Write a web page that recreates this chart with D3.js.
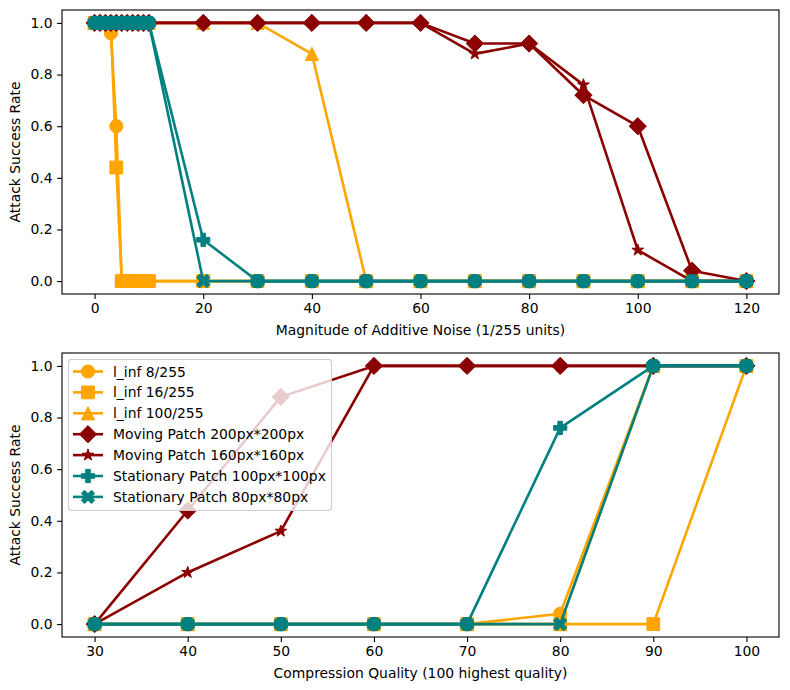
<!DOCTYPE html>
<html>
<head>
<meta charset="utf-8">
<script src="https://cdn.jsdelivr.net/npm/d3@7"></script>
<style>
  body { margin: 0; background: #fff; }
  svg text { font-family: "DejaVu Sans", sans-serif; font-size: 13.9px; fill: #000; }
</style>
</head>
<body>
<svg id="chart"></svg>
<script>
// ---- data ----
var noiseLevels = [0, 1, 2, 3, 4, 5, 6, 7, 8, 9, 10, 20, 30, 40, 50, 60, 70, 80, 90, 100, 110, 120];
var qualityLevels = [30, 40, 50, 60, 70, 80, 90, 100];

var seriesNames = ["l_inf 8/255", "l_inf 16/255", "l_inf 100/255",
  "Moving Patch 200px*200px", "Moving Patch 160px*160px",
  "Stationary Patch 100px*100px", "Stationary Patch 80px*80px", null];
var seriesColors = ["orange", "orange", "orange", "darkred", "darkred", "teal", "teal", "teal"];
var seriesMarkers = ["circle", "square", "triangle", "diamond", "star", "plus", "x", "circle"];

// noise sweep (top)
var linf8Noise    = [1, 1, 1, 0.96, 0.6, 0, 0, 0, 0, 0, 0, 0, 0, 0, 0, 0, 0, 0, 0, 0, 0, 0];
var linf16Noise   = [1, 1, 1, 1, 0.44, 0, 0, 0, 0, 0, 0, 0, 0, 0, 0, 0, 0, 0, 0, 0, 0, 0];
var linf100Noise  = [1, 1, 1, 1, 1, 1, 1, 1, 1, 1, 1, 1, 1, 0.88, 0, 0, 0, 0, 0, 0, 0, 0];
var moving200Noise = [1, 1, 1, 1, 1, 1, 1, 1, 1, 1, 1, 1, 1, 1, 1, 1, 0.92, 0.92, 0.72, 0.6, 0.04, 0];
var moving160Noise = [1, 1, 1, 1, 1, 1, 1, 1, 1, 1, 1, 1, 1, 1, 1, 1, 0.88, 0.92, 0.76, 0.12, 0, 0];
var stat100Noise  = [1, 1, 1, 1, 1, 1, 1, 1, 1, 1, 1, 0.16, 0, 0, 0, 0, 0, 0, 0, 0, 0, 0];
var stat80Noise   = [1, 1, 1, 1, 1, 1, 1, 1, 1, 1, 1, 0, 0, 0, 0, 0, 0, 0, 0, 0, 0, 0];
var extraNoise    = [1, 1, 1, 1, 1, 1, 1, 1, 1, 1, 1, null, 0, 0, 0, 0, 0, 0, 0, 0, 0, 0];

// compression sweep (bottom)
var linf8Quality    = [0, 0, 0, 0, 0, 0.04, 1, 1];
var linf16Quality   = [0, 0, 0, 0, 0, 0, 0, 1];
var linf100Quality  = [0, 0, 0, 0, 0, 0, 1, 1];
var moving200Quality = [0, 0.44, 0.88, 1, 1, 1, 1, 1];
var moving160Quality = [0, 0.2, 0.36, 1, 1, 1, 1, 1];
var stat100Quality  = [0, 0, 0, 0, 0, 0.76, 1, 1];
var stat80Quality   = [0, 0, 0, 0, 0, 0, 1, 1];
var extraQuality    = [0, 0, 0, 0, 0, null, 1, 1];

var yTicks = [0, 0.2, 0.4, 0.6, 0.8, 1.0];
var noiseTicks = [0, 20, 40, 60, 80, 100, 120];
var qualityTicks = [30, 40, 50, 60, 70, 80, 90, 100];

// ---- marker shapes ----
function markerPath(type) {
  var p, r;
  switch (type) {
    case "circle":
      return d3.symbol(d3.symbolCircle, Math.PI * 6.6 * 6.6)();
    case "square":
      r = 6.4;
      return "M" + (-r) + "," + (-r) + "H" + r + "V" + r + "H" + (-r) + "Z";
    case "triangle":
      r = 6.6;
      return "M0," + (-r) + "L" + r + "," + r + "L" + (-r) + "," + r + "Z";
    case "diamond":
      r = 8.6;
      return "M0," + (-r) + "L" + r + ",0L0," + r + "L" + (-r) + ",0Z";
    case "star":
      p = [];
      for (var i = 0; i < 10; i++) {
        var rr = i % 2 ? 2.4 : 6.2, a = -Math.PI / 2 + i * Math.PI / 5;
        p.push([rr * Math.cos(a), rr * Math.sin(a)]);
      }
      return "M" + p.join("L") + "Z";
    case "plus":
    case "x":
      var o = 6.6, w = 2.3;
      p = [[-w,-o],[w,-o],[w,-w],[o,-w],[o,w],[w,w],[w,o],[-w,o],[-w,w],[-o,w],[-o,-w],[-w,-w]];
      if (type === "x") {
        o = 7.2;
        p = [[-w,-o],[w,-o],[w,-w],[o,-w],[o,w],[w,w],[w,o],[-w,o],[-w,w],[-o,w],[-o,-w],[-w,-w]];
        var c = Math.SQRT1_2;
        p = p.map(function(d) { return [(d[0] - d[1]) * c, (d[0] + d[1]) * c]; });
      }
      return "M" + p.join("L") + "Z";
  }
}

var svg = d3.select("#chart").attr("width", 790).attr("height", 690);
svg.append("rect").attr("width", 790).attr("height", 690).attr("fill", "#fff");

function drawPanel(box, xs, xDomain, xTicks, seriesList, xLabel, withLegend) {
  var x = d3.scaleLinear().domain(xDomain).range([box.left, box.right]);
  var y = d3.scaleLinear().domain([-0.05, 1.05]).range([box.bottom, box.top]);
  var g = svg.append("g");

  var line = d3.line()
    .defined(function(d) { return d[1] !== null; })
    .x(function(d) { return x(d[0]); })
    .y(function(d) { return y(d[1]); });

  seriesList.forEach(function(vals, i) {
    var pts = xs.map(function(v, j) { return [v, vals[j]]; });
    var sg = g.append("g");
    sg.append("path").attr("d", line(pts)).attr("fill", "none")
      .attr("stroke", seriesColors[i]).attr("stroke-width", 2.6).attr("stroke-linejoin", "round");
    sg.selectAll(".m").data(pts.filter(function(d) { return d[1] !== null; })).enter()
      .append("path")
      .attr("d", markerPath(seriesMarkers[i]))
      .attr("transform", function(d) { return "translate(" + x(d[0]) + "," + y(d[1]) + ")"; })
      .attr("fill", seriesColors[i]).attr("stroke", seriesColors[i]).attr("stroke-width", 1);
  });

  var xAxis = g.append("g").attr("transform", "translate(0," + box.bottom + ")")
    .call(d3.axisBottom(x).tickValues(xTicks).tickSize(4.9).tickPadding(4.5).tickFormat(d3.format("d")));
  var yAxis = g.append("g").attr("transform", "translate(" + box.left + ",0)")
    .call(d3.axisLeft(y).tickValues(yTicks).tickSize(4.9).tickPadding(4.5).tickFormat(d3.format(".1f")));
  [xAxis, yAxis].forEach(function(a) {
    a.select(".domain").remove();
    a.selectAll("line").attr("stroke", "#000").attr("stroke-width", 1.1);
    a.selectAll("text").attr("font-family", null).attr("font-size", null);
  });

  g.append("rect").attr("x", box.left).attr("y", box.top)
    .attr("width", box.right - box.left).attr("height", box.bottom - box.top)
    .attr("fill", "none").attr("stroke", "#000").attr("stroke-width", 1.1);

  g.append("text").attr("x", (box.left + box.right) / 2).attr("y", box.bottom + 41)
    .attr("text-anchor", "middle").text(xLabel);
  g.append("text")
    .attr("transform", "translate(20," + ((box.top + box.bottom) / 2) + ") rotate(-90)")
    .attr("text-anchor", "middle").text("Attack Success Rate");

  if (withLegend) {
    var lg = g.append("g");
    lg.append("rect").attr("x", 68.5).attr("y", 359.5).attr("width", 263).attr("height", 151)
      .attr("rx", 3).attr("fill", "#fff").attr("fill-opacity", 0.8)
      .attr("stroke", "#ccc").attr("stroke-width", 1.1);
    seriesNames.forEach(function(name, i) {
      if (name === null) return;
      var ry = 371.5 + i * 20.9;
      lg.append("line").attr("x1", 73).attr("x2", 103).attr("y1", ry).attr("y2", ry)
        .attr("stroke", seriesColors[i]).attr("stroke-width", 2.6);
      lg.append("path").attr("d", markerPath(seriesMarkers[i]))
        .attr("transform", "translate(88," + ry + ")")
        .attr("fill", seriesColors[i]).attr("stroke", seriesColors[i]).attr("stroke-width", 1);
      lg.append("text").attr("x", 113).attr("y", ry).attr("dy", "0.36em").text(name);
    });
  }
}

drawPanel({left: 62, right: 779, top: 10, bottom: 294}, noiseLevels, [-6, 126], noiseTicks,
  [linf8Noise, linf16Noise, linf100Noise, moving200Noise, moving160Noise, stat100Noise, stat80Noise, extraNoise],
  "Magnitude of Additive Noise (1/255 units)", false);

drawPanel({left: 62, right: 779, top: 353, bottom: 637}, qualityLevels, [26.5, 103.5], qualityTicks,
  [linf8Quality, linf16Quality, linf100Quality, moving200Quality, moving160Quality, stat100Quality, stat80Quality, extraQuality],
  "Compression Quality (100 highest quality)", true);
</script>
</body>
</html>
